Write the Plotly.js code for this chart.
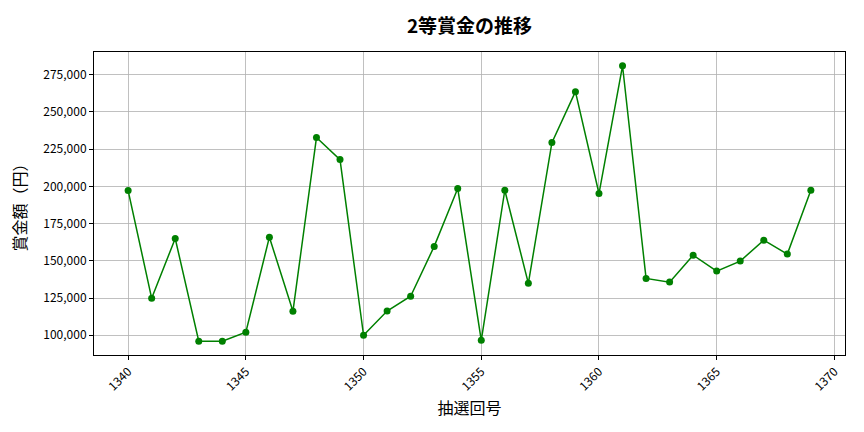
<!DOCTYPE html>
<html>
<head>
<meta charset="utf-8">
<script src="https://cdn.plot.ly/plotly-3.0.1.min.js"></script>
<style>
  html, body { margin: 0; padding: 0; background: #fff; }
  #chart { width: 864px; height: 432px; }
</style>
</head>
<body>
<div id="chart"></div>
<script>
var draws = [1340, 1341, 1342, 1343, 1344, 1345, 1346, 1347, 1348, 1349,
             1350, 1351, 1352, 1353, 1354, 1355, 1356, 1357, 1358, 1359,
             1360, 1361, 1362, 1363, 1364, 1365, 1366, 1367, 1368, 1369];
var prizes = [197200, 124800, 165000, 96000, 96000, 102000, 165900, 116100, 232800, 218000,
              100000, 116300, 126200, 159700, 198600, 96600, 197400, 134900, 229400, 263600,
              195200, 281000, 138200, 135700, 153800, 143100, 149800, 163900, 154500, 197400];
var xTicks = [1340, 1345, 1350, 1355, 1360, 1365, 1370];
var yTicks = [100000, 125000, 150000, 175000, 200000, 225000, 250000, 275000];

function plotPrizeHistory() {
  var font = "Noto Sans CJK JP, Noto Sans, sans-serif";
  var trace = {
    x: draws,
    y: prizes,
    mode: "lines+markers",
    type: "scatter",
    line: { color: "green", width: 1.5 },
    marker: { color: "green", size: 7 },
    hoverinfo: "x+y"
  };
  var layout = {
    width: 864,
    height: 432,
    margin: { l: 94, r: 19, t: 52, b: 77 },
    paper_bgcolor: "#fff",
    plot_bgcolor: "#fff",
    font: { family: font, color: "#000" },
    showlegend: false,
    title: {
      text: "<b>2等賞金の推移</b>",
      font: { family: font, size: 19, color: "#000" },
      xref: "paper",
      x: 0.5,
      xanchor: "center",
      y: 0.94,
      yanchor: "middle"
    },
    xaxis: {
      range: [1338.55, 1370.45],
      tickvals: xTicks,
      ticktext: xTicks.map(String),
      tickangle: -45,
      ticks: "outside",
      ticklen: 4,
      tickcolor: "#000",
      tickfont: { family: font, size: 12, color: "#000" },
      showgrid: true,
      gridcolor: "#b0b0b0",
      gridwidth: 0.8,
      zeroline: false,
      showline: true,
      linecolor: "#000",
      linewidth: 1,
      mirror: true,
      title: {
        text: "抽選回号",
        font: { family: font, size: 16, color: "#000" },
        standoff: 10
      }
    },
    yaxis: {
      range: [86750, 290250],
      tickvals: yTicks,
      ticktext: yTicks.map(function (v) { return v.toLocaleString("en-US"); }),
      ticks: "outside",
      ticklen: 4,
      tickcolor: "#000",
      tickfont: { family: font, size: 12, color: "#000" },
      showgrid: true,
      gridcolor: "#b0b0b0",
      gridwidth: 0.8,
      zeroline: false,
      showline: true,
      linecolor: "#000",
      linewidth: 1,
      mirror: true,
      title: {
        text: "賞金額（円）",
        font: { family: font, size: 16, color: "#000" },
        standoff: 12
      }
    }
  };
  Plotly.newPlot("chart", [trace], layout, { displayModeBar: false, staticPlot: true });
}
plotPrizeHistory();
</script>
</body>
</html>
